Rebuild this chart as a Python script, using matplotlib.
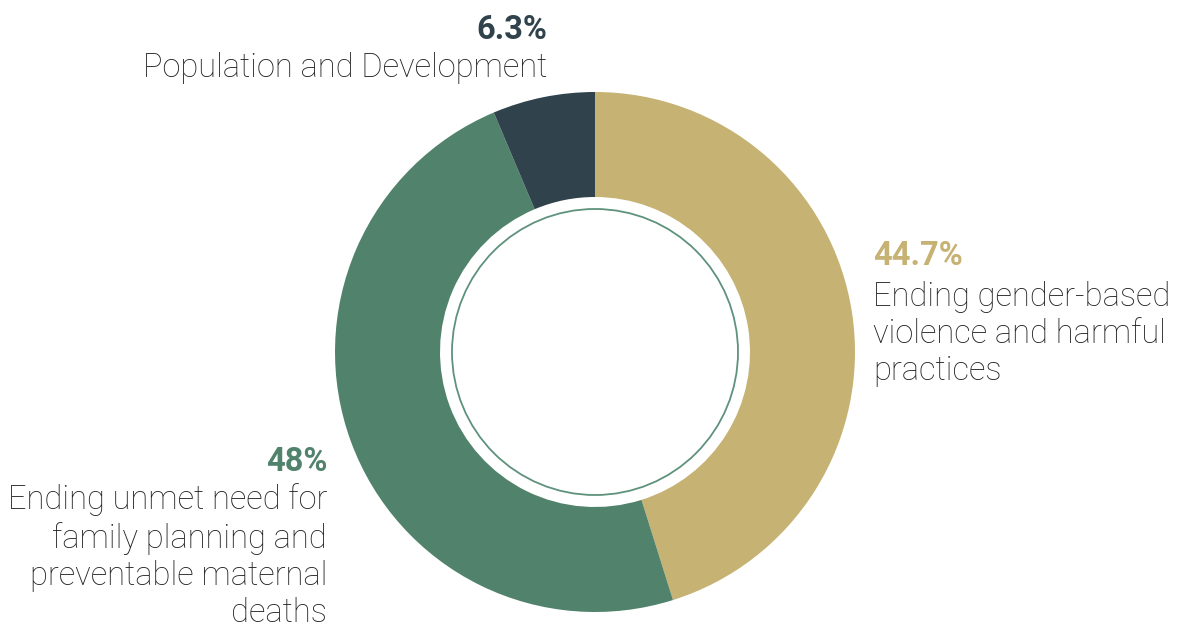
import matplotlib.pyplot as plt
from matplotlib.patches import Circle

labels = ["Ending gender-based\nviolence and harmful\npractices",
          "Ending unmet need for\nfamily planning and\npreventable maternal\ndeaths",
          "Population and Development"]
values = [44.7, 48, 6.3]
pct_text = ["44.7%", "48%", "6.3%"]
colors = ["#C6B273", "#51826C", "#30434C"]

H = 628
fig = plt.figure(figsize=(11.77, 6.28), dpi=100)
ax = fig.add_axes([0, 0, 1, 1])
ax.set_xlim(0, 1177)
ax.set_ylim(0, H)
ax.set_aspect("equal")
ax.axis("off")

cx, cy = 595, H - 352
ax.pie(values, colors=colors, startangle=90, counterclock=False,
       center=(cx, cy), radius=260, wedgeprops=dict(width=105, linewidth=0))
ax.add_patch(Circle((cx, cy), 143, facecolor="none", edgecolor="#5E927C", lw=1.3))
ax.set_xlim(0, 1177)
ax.set_ylim(0, H)

txt = "#222222"
pfont = dict(family=["Roboto", "DejaVu Sans"], fontsize=23.5, fontweight="bold")
lfont = dict(family=["Roboto", "DejaVu Sans"], fontsize=23.5, fontweight="light", color=txt)

# gold slice
ax.text(873, H - 256, pct_text[0], color=colors[0], ha="left", va="center", **pfont)
ax.text(873, H - 334, labels[0], ha="left", va="center", linespacing=1.21, **lfont)
# green slice
ax.text(327, H - 462, pct_text[1], color=colors[1], ha="right", va="center", **pfont)
ax.text(327, H - 556, labels[1], ha="right", va="center", multialignment="right",
        linespacing=1.2, **lfont)
# dark slice
ax.text(547, H - 30, pct_text[2], color=colors[2], ha="right", va="center", **pfont)
ax.text(547, H - 68, labels[2], ha="right", va="center", **lfont)

fig.savefig("out.png", dpi=100)
